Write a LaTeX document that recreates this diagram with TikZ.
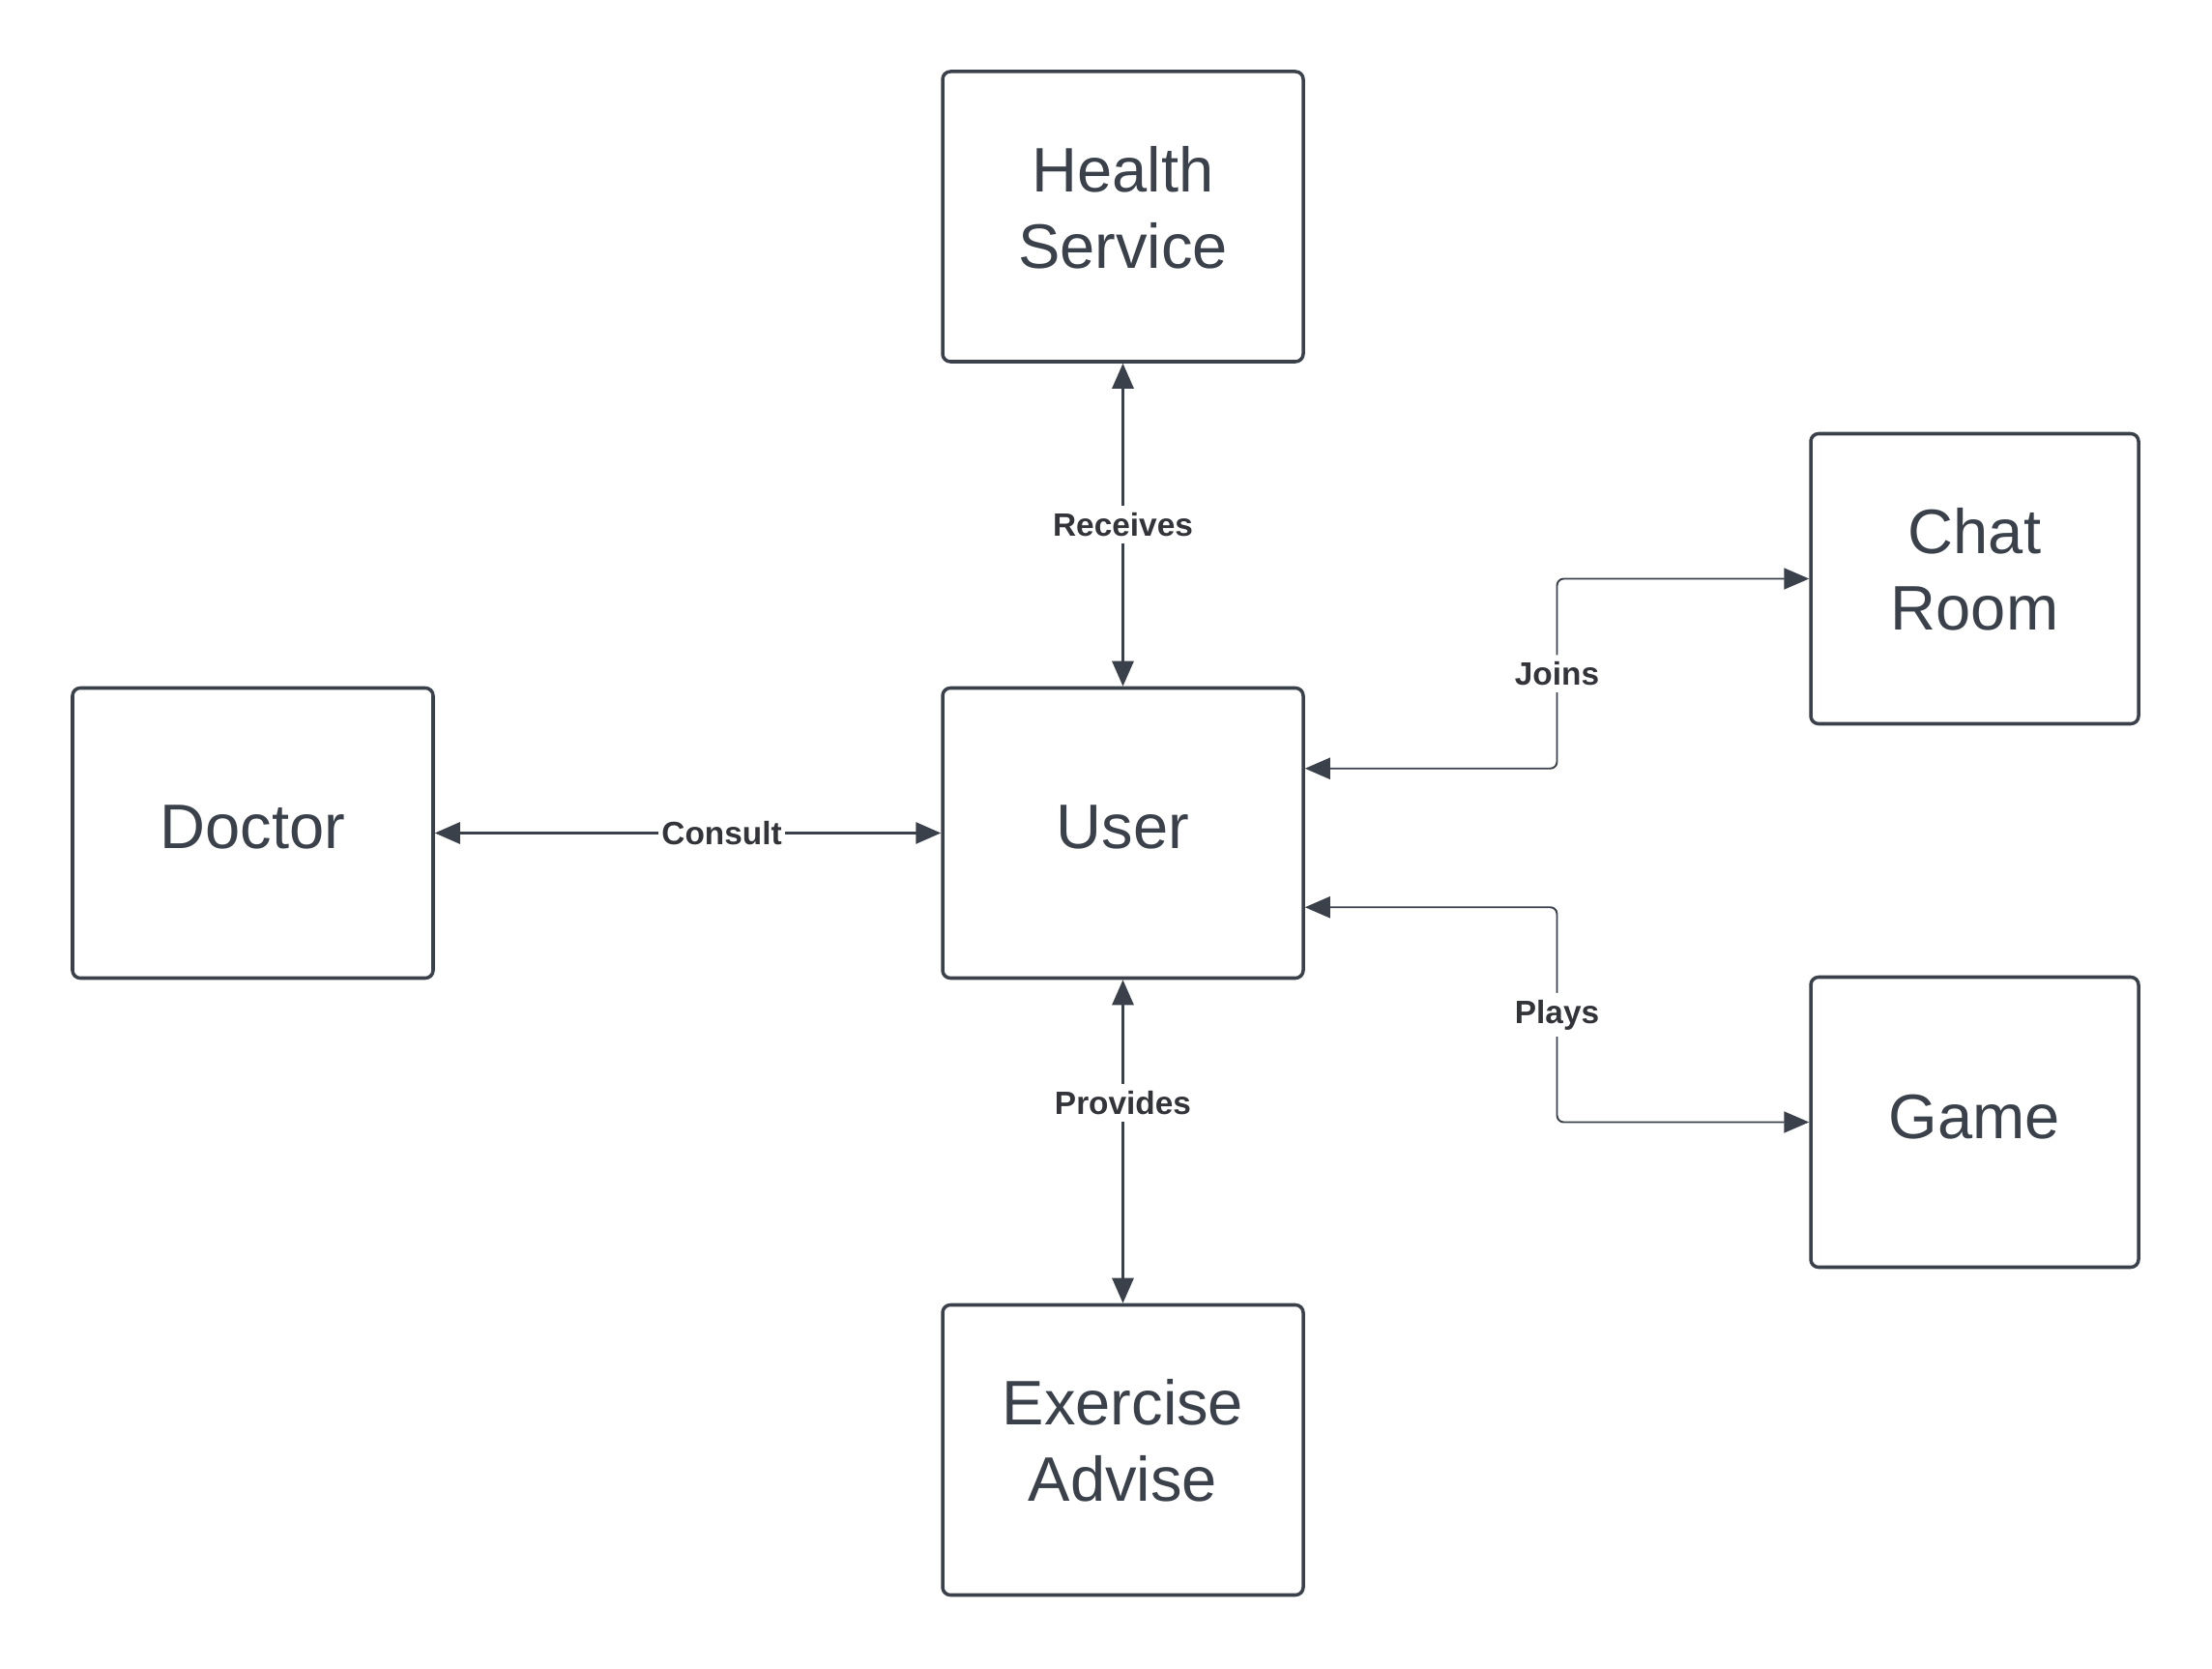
\documentclass[tikz,border=0pt]{standalone}
\usepackage{fontspec}
\setmainfont{Liberation Sans}
\usepackage{tikz}
\usetikzlibrary{arrows.meta,positioning,calc}
\usepackage{xcolor}
\definecolor{boxcolor}{RGB}{58,65,74}
\definecolor{labelcolor}{RGB}{50,52,58}

\begin{document}
\begin{tikzpicture}[>={Triangle[length=2.6mm,width=2.2mm]}, line join=round]
  % Styles
  \tikzset{
    entity/.style={rectangle,rounded corners=0.8mm,draw=boxcolor,line width=1pt,fill=white,
      minimum width=3.73cm,minimum height=3cm,inner sep=0pt,align=center,text depth=0.35em,
      text=boxcolor,font=\fontsize{18.5}{22.5}\selectfont},
    twoline/.style={text depth=0.56em},
    narrow/.style={minimum width=3.39cm},
    link/.style={draw=boxcolor,line width=0.85pt,<->},
    elbow/.style={link,line width=0.55pt,rounded corners=0.7mm},
    lab/.style={fill=white,inner xsep=1pt,inner ysep=2pt,text=labelcolor,
      font=\fontsize{9.5}{11.5}\selectfont\bfseries}
  }

  \useasboundingbox (0,0) rectangle (22.88,17.25);

  %================= BOXES =================
  \node[entity,twoline] (Health) at (11.615,15.01) {Health\\Service};
  \node[entity] (User) at (11.615,8.635) {User};
  \node[entity] (Doctor) at (2.615,8.635) {Doctor};
  \node[entity,twoline] (Exercise) at (11.615,2.255) {Exercise\\Advise};
  \node[entity,narrow,twoline] (Chat) at (20.425,11.265) {Chat\\Room};
  \node[entity,narrow] (Game) at (20.425,5.645) {Game};

  %================= STRAIGHT LINKS =================
  \draw[link] (Health) -- node[lab] {Receives} (User);
  \draw[link] (User) -- node[lab,pos=0.38] {Provides} (Exercise);
  \draw[link] (Doctor) -- node[lab,pos=0.567] {Consult} (User);

  %================= ELBOW LINKS =================
  \coordinate (uJ) at ([yshift=-8.5mm]User.north east);
  \coordinate (uP) at ([yshift=7.5mm]User.south east);
  \coordinate (midJ) at ($(User.east)!0.5!(Chat.west)$);
  \coordinate (midP) at ($(User.east)!0.5!(Game.west)$);

  \draw[elbow] (uJ) -- (uJ -| midJ) -- node[lab] {Joins} (midJ |- Chat.west) -- (Chat.west);
  \draw[elbow] (uP) -- (uP -| midP) -- node[lab] {Plays} (midP |- Game.west) -- (Game.west);

\end{tikzpicture}
\end{document}
